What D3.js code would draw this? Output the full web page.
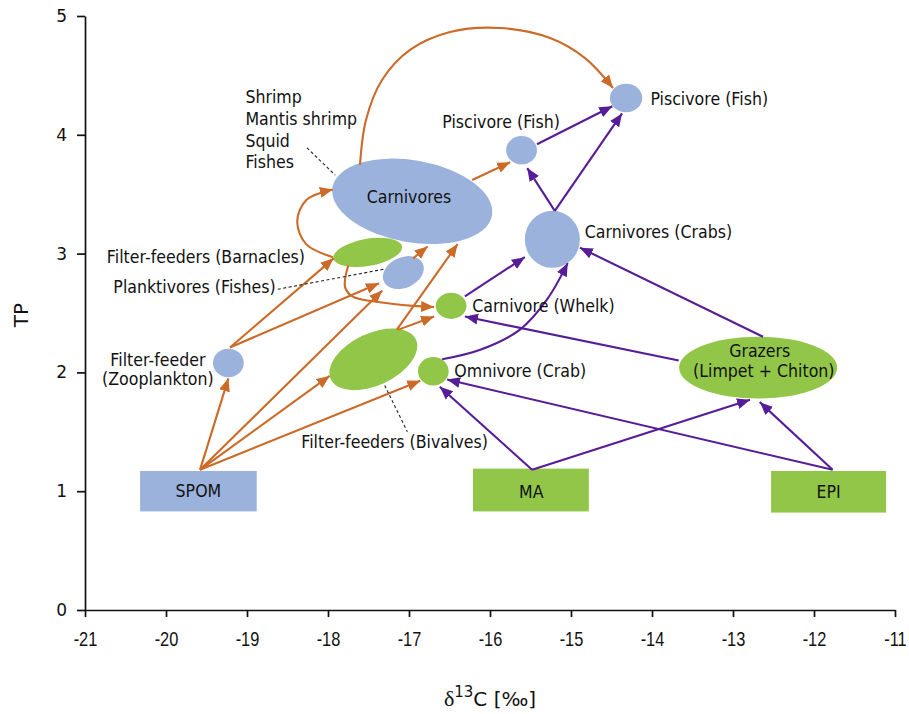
<!DOCTYPE html>
<html><head><meta charset="utf-8">
<script src="https://cdn.jsdelivr.net/npm/d3@7"></script>
<style>body{margin:0;background:#fff}</style>
</head><body><svg id="c" width="909" height="714"></svg>
<script>
// ---------- axes ----------
const xDomain = [-21, -11];
const yDomain = [0, 5];
const xTicks = [-21, -20, -19, -18, -17, -16, -15, -14, -13, -12, -11];
const yTicks = [0, 1, 2, 3, 4, 5];
const xTitle = "C [‰]";
const yTitle = "TP";

// ---------- consumer groups (ellipses: mean δ13C, mean TP, spread in ‰ and TP) ----------
const nodeNames = ["Carnivores", "Piscivore (Fish) mid", "Piscivore (Fish) top", "Carnivores (Crabs)",
  "Filter-feeders (Barnacles)", "Planktivores (Fishes)", "Carnivore (Whelk)", "Filter-feeders (Bivalves)",
  "Omnivore (Crab)", "Filter-feeder (Zooplankton)", "Grazers"];
const nodeX = [-16.96, -15.61, -14.32, -15.23, -17.51, -17.07, -16.48, -17.44, -16.70, -19.23, -12.69];
const nodeY = [3.44, 3.87, 4.31, 3.12, 3.01, 2.84, 2.56, 2.11, 2.01, 2.08, 2.04];
const nodeSpreadX = [1.0, 0.19, 0.20, 0.34, 0.43, 0.265, 0.19, 0.58, 0.19, 0.19, 0.975];
const nodeSpreadY = [0.345, 0.12, 0.12, 0.24, 0.114, 0.128, 0.11, 0.219, 0.12, 0.12, 0.26];
const nodeTilt = [10, 0, 0, 0, -10, -25, 0, -25, 0, 0, 0];
const nodeGroup = ["pelagic", "pelagic", "pelagic", "pelagic", "benthic", "pelagic", "benthic", "benthic", "benthic", "pelagic", "benthic"];

// ---------- sources (boxes: δ13C range, TP range) ----------
const sourceNames = ["SPOM", "MA", "EPI"];
const sourceX0 = [-20.32, -16.21, -12.53];
const sourceX1 = [-18.88, -14.78, -11.11];
const sourceY0 = [0.83, 0.83, 0.82];
const sourceY1 = [1.17, 1.19, 1.17];
const sourceGroup = ["pelagic", "benthic", "benthic"];

// ---------- trophic links (data coordinates: from δ13C, from TP, to δ13C, to TP) ----------
const pelagicLinks = [
  [-19.58, 1.18, -19.23, 1.95],
  [-19.58, 1.18, -17.98, 1.97],
  [-19.58, 1.18, -16.86, 1.93],
  [-19.58, 1.18, -17.33, 2.69],
  [-19.21, 2.21, -17.93, 2.96],
  [-19.21, 2.21, -17.37, 2.75],
  [-16.95, 2.96, -16.77, 3.06],
  [-17.15, 2.36, -16.40, 3.08],
  [-17.13, 2.36, -16.69, 2.47],
  [-16.22, 3.62, -15.75, 3.77]
];
const pelagicCurves = [
  [[-17.75, 2.90], [-17.79, 2.72], [-17.70, 2.64], [-17.36, 2.59], [-16.95, 2.56], [-16.69, 2.55]],
  [[-17.94, 2.97], [-18.27, 3.08], [-18.38, 3.27], [-18.27, 3.45], [-17.94, 3.54]],
  [[-17.605, 3.746], [-17.531, 4.125], [-17.333, 4.461], [-16.988, 4.714], [-16.494, 4.865],
   [-15.877, 4.899], [-15.259, 4.815], [-14.827, 4.646], [-14.481, 4.394]]
];
const benthicLinks = [
  [-15.48, 1.18, -16.62, 1.88],
  [-15.48, 1.18, -12.79, 1.77],
  [-11.77, 1.18, -12.67, 1.75],
  [-11.77, 1.18, -16.53, 1.94],
  [-13.67, 2.10, -16.31, 2.47],
  [-12.63, 2.30, -14.89, 3.05],
  [-16.31, 2.64, -15.57, 2.97],
  [-15.20, 3.36, -15.54, 3.72],
  [-15.20, 3.36, -14.37, 4.18],
  [-15.42, 3.92, -14.49, 4.24]
];
const benthicCurves = [
  [[-16.59, 2.11], [-16.12, 2.19], [-15.63, 2.36], [-15.30, 2.61], [-15.04, 2.92]]
];

// ---------- leader lines ----------
const leaderLines = [
  [-18.26, 3.89, -17.91, 3.66],
  [-18.62, 2.70, -17.30, 2.87],
  [-17.30, 1.89, -17.02, 1.50]
];

// ---------- labels ----------
const labelText = ["Shrimp", "Mantis shrimp", "Squid", "Fishes",
  "Filter-feeders (Barnacles)", "Planktivores (Fishes)", "Filter-feeder", "(Zooplankton)",
  "Carnivores", "Piscivore (Fish)", "Piscivore (Fish)", "Carnivores (Crabs)", "Carnivore (Whelk)",
  "Omnivore (Crab)", "Grazers", "(Limpet + Chiton)", "Filter-feeders (Bivalves)",
  "SPOM", "MA", "EPI"];
const labelX = [-19.02, -19.02, -19.02, -19.02,
  -20.73, -20.65, -20.10, -20.10,
  -17.00, -16.59, -14.02, -14.83, -16.22,
  -16.44, -12.67, -12.62, -18.33,
  -19.60, -15.49, -11.82];
const labelY = [4.27, 4.08, 3.90, 3.72,
  2.92, 2.67, 2.05, 1.89,
  3.43, 4.06, 4.25, 3.13, 2.51,
  1.96, 2.13, 1.96, 1.36,
  0.95, 0.94, 0.94];
const labelAnchor = ["start", "start", "start", "start",
  "start", "start", "middle", "middle",
  "middle", "start", "start", "start", "start",
  "start", "middle", "middle", "start",
  "middle", "middle", "middle"];

// ---------- drawing ----------
const colors = { pelagic: "#9bb3dc", benthic: "#92c649" };
const linkColors = { pelagic: "#cc6a27", benthic: "#571c98" };

const svg = d3.select("#c");
const x = d3.scaleLinear().domain(xDomain).range([85, 895]);
const y = d3.scaleLinear().domain(yDomain).range([610, 16]);

const defs = svg.append("defs");
Object.entries(linkColors).forEach(([k, c]) => {
  defs.append("marker").attr("id", "arrow-" + k)
    .attr("viewBox", "0 -6 13 12").attr("refX", 13).attr("refY", 0)
    .attr("markerWidth", 13).attr("markerHeight", 12)
    .attr("markerUnits", "userSpaceOnUse").attr("orient", "auto")
    .append("path").attr("d", "M0,-5.5L13,0L0,5.5Z").attr("fill", c);
});

// axes
const gx = svg.append("g").attr("transform", `translate(0,${y(0)})`)
  .call(d3.axisBottom(x).tickValues(xTicks).tickSize(7).tickSizeOuter(0).tickPadding(15).tickFormat(d => String(d)));
gx.selectAll("text").attr("font-family", "Liberation Sans, Arial, sans-serif").attr("font-size", 20)
  .attr("fill", "#111").attr("transform", "scale(0.82,1)");
const gy = svg.append("g").attr("transform", `translate(${x(-21)},0)`)
  .call(d3.axisLeft(y).tickValues(yTicks).tickSize(8).tickSizeOuter(0).tickPadding(10).tickFormat(d => String(d)));
gy.selectAll("text").attr("font-family", "DejaVu Sans, sans-serif").attr("font-size", 17).attr("fill", "#111");
svg.selectAll(".domain, .tick line").attr("stroke", "#111").attr("stroke-width", 1.7);

// axis titles
svg.append("text").attr("transform", "translate(28,315) rotate(-90)")
  .attr("text-anchor", "middle").attr("font-family", "DejaVu Sans, sans-serif").attr("font-size", 20)
  .attr("fill", "#111").text(yTitle);
const xt = svg.append("text").attr("x", 490).attr("y", 706).attr("text-anchor", "middle")
  .attr("font-family", "DejaVu Sans, sans-serif").attr("font-size", 20).attr("fill", "#111");
xt.append("tspan").attr("font-family", "Liberation Serif, serif").attr("font-size", 22).text("δ");
xt.append("tspan").attr("font-size", 15).attr("dy", -9).text("13");
xt.append("tspan").attr("dy", 9).text(xTitle);

// ellipses
const idx = nodeNames.map((_, i) => i);
svg.append("g").selectAll("ellipse").data(idx).join("ellipse")
  .attr("transform", i => `translate(${x(nodeX[i])},${y(nodeY[i])}) rotate(${nodeTilt[i]})`)
  .attr("rx", i => Math.abs(x(xDomain[0] + nodeSpreadX[i]) - x(xDomain[0])))
  .attr("ry", i => Math.abs(y(nodeSpreadY[i]) - y(0)))
  .attr("fill", i => colors[nodeGroup[i]]);

// source boxes
svg.append("g").selectAll("rect").data(sourceNames.map((_, i) => i)).join("rect")
  .attr("x", i => x(sourceX0[i])).attr("y", i => y(sourceY1[i]))
  .attr("width", i => x(sourceX1[i]) - x(sourceX0[i]))
  .attr("height", i => y(sourceY0[i]) - y(sourceY1[i]))
  .attr("fill", i => colors[sourceGroup[i]]);

// links
const straight = d3.line().x(d => x(d[0])).y(d => y(d[1]));
const curved = d3.line().x(d => x(d[0])).y(d => y(d[1])).curve(d3.curveCatmullRom.alpha(0.5));
function drawLinks(links, curves, key) {
  const g = svg.append("g").attr("fill", "none").attr("stroke", linkColors[key]).attr("stroke-width", 2.1);
  g.selectAll("path.s").data(links).join("path").attr("class", "s")
    .attr("d", d => straight([[d[0], d[1]], [d[2], d[3]]]))
    .attr("marker-end", `url(#arrow-${key})`);
  g.selectAll("path.c").data(curves).join("path").attr("class", "c")
    .attr("d", d => curved(d))
    .attr("marker-end", `url(#arrow-${key})`);
}
drawLinks(pelagicLinks, pelagicCurves, "pelagic");
drawLinks(benthicLinks, benthicCurves, "benthic");

// leader lines
svg.append("g").selectAll("line").data(leaderLines).join("line")
  .attr("x1", d => x(d[0])).attr("y1", d => y(d[1])).attr("x2", d => x(d[2])).attr("y2", d => y(d[3]))
  .attr("stroke", "#222").attr("stroke-width", 1.1).attr("stroke-dasharray", "3,2.5");

// labels
svg.append("g").selectAll("text").data(labelText.map((_, i) => i)).join("text")
  .attr("transform", i => `translate(${x(labelX[i])},${y(labelY[i])}) scale(0.93,1)`)
  .attr("text-anchor", i => labelAnchor[i])
  .attr("font-family", "DejaVu Sans, sans-serif").attr("font-size", 17).attr("fill", "#111")
  .text(i => labelText[i]);
</script></body></html>
